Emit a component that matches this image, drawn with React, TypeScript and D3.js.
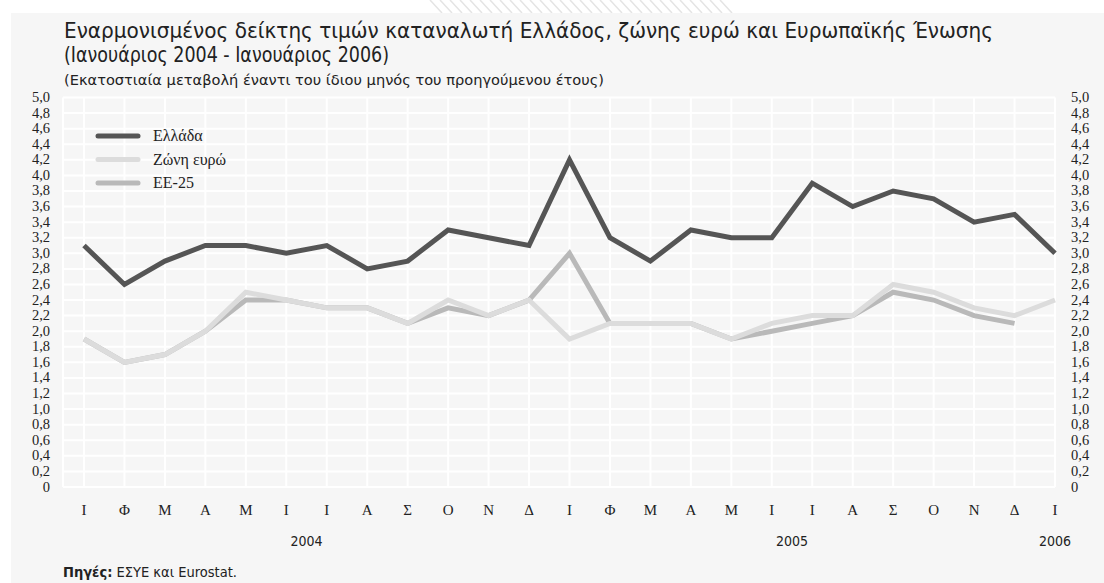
import React from "react";
import * as d3 from "d3";

const months = ["Ι","Φ","Μ","Α","Μ","Ι","Ι","Α","Σ","Ο","Ν","Δ","Ι","Φ","Μ","Α","Μ","Ι","Ι","Α","Σ","Ο","Ν","Δ","Ι"];
const greece = [3.1,2.6,2.9,3.1,3.1,3.0,3.1,2.8,2.9,3.3,3.2,3.1,4.2,3.2,2.9,3.3,3.2,3.2,3.9,3.6,3.8,3.7,3.4,3.5,3.0];
const euroArea = [1.9,1.6,1.7,2.0,2.5,2.4,2.3,2.3,2.1,2.4,2.2,2.4,1.9,2.1,2.1,2.1,1.9,2.1,2.2,2.2,2.6,2.5,2.3,2.2,2.4];
const eu25 = [1.9,1.6,1.7,2.0,2.4,2.4,2.3,2.3,2.1,2.3,2.2,2.4,3.0,2.1,2.1,2.1,1.9,2.0,2.1,2.2,2.5,2.4,2.2,2.1];
const yearLabels = ["2004","2005","2006"];
const yearPos = [5.5,17.5,24];
const yTicks = d3.range(0, 26).map((i) => i * 0.2);
const seriesNames = ["Ελλάδα","Ζώνη ευρώ","ΕΕ-25"];
const seriesColors = ["#555555","#dcdcdc","#b9b9b9"];

const W = 1104, H = 583;
const plotLeft = 63, plotRight = 1055, plotTop = 97.5, plotBottom = 487;

export default function App() {
  const x = d3.scaleLinear().domain([0, 24]).range([84, plotRight]);
  const y = d3.scaleLinear().domain([0, 5]).range([plotBottom, plotTop]);
  const line = d3.line<number>().x((_, i) => x(i)).y((d) => y(d));
  const fmt = (v: number) => (v === 0 ? "0" : d3.format(".1f")(v).replace(".", ","));
  const serif = "'Liberation Serif', 'DejaVu Serif', serif";
  const narrow = "'Liberation Sans Narrow', 'DejaVu Sans Condensed', 'Arial Narrow', sans-serif";
  const hatch = d3.range(0, 30).map((i) => 430 + i * 10);
  const legendY = [136, 159.5, 183];

  return (
    <svg width={W} height={H} style={{ position: "absolute", left: 0, top: 0, display: "block" }}>
      <rect x={0} y={0} width={W} height={H} fill="#ffffff" />
      {hatch.map((hx, i) => (
        <line key={"h" + i} x1={hx} y1={0} x2={hx + 12} y2={13} stroke="#e4e4e4" strokeWidth={1.5} />
      ))}
      <rect x={11} y={13} width={W - 11} height={H - 13} fill="#f6f6f6" />

      <text x={64} y={38} fontFamily={narrow} fontSize={21} fill="#222" textLength={929} lengthAdjust="spacingAndGlyphs">
        Εναρμονισμένος δείκτης τιμών καταναλωτή Ελλάδος, ζώνης ευρώ και Ευρωπαϊκής Ένωσης
      </text>
      <text x={64} y={62} fontFamily={narrow} fontSize={21} fill="#222" textLength={325} lengthAdjust="spacingAndGlyphs">
        (Ιανουάριος 2004 - Ιανουάριος 2006)
      </text>
      <text x={64} y={85} fontFamily={narrow} fontSize={14} fill="#222" textLength={540} lengthAdjust="spacingAndGlyphs">
        (Εκατοστιαία μεταβολή έναντι του ίδιου μηνός του προηγούμενου έτους)
      </text>

      {yTicks.map((t, i) => (
        <line key={"gy" + i} x1={plotLeft} x2={plotRight} y1={y(t)} y2={y(t)} stroke="#ffffff" strokeWidth={2} />
      ))}
      <line x1={plotLeft} x2={plotLeft} y1={plotTop} y2={plotBottom} stroke="#ffffff" strokeWidth={2} />
      {months.map((_, i) => (
        <line key={"gx" + i} x1={x(i)} x2={x(i)} y1={plotTop} y2={plotBottom} stroke="#ffffff" strokeWidth={2} />
      ))}

      {yTicks.map((t, i) => (
        <g key={"yl" + i}>
          <text x={50} y={y(t) + 4.5} textAnchor="end" fontFamily={serif} fontSize={14.5} fill="#222">{fmt(t)}</text>
          <text x={1071} y={y(t) + 4.5} textAnchor="start" fontFamily={serif} fontSize={14.5} fill="#222">{fmt(t)}</text>
        </g>
      ))}

      {months.map((m, i) => (
        <text key={"m" + i} x={x(i)} y={515} textAnchor="middle" fontFamily={serif} fontSize={15} fill="#222">{m}</text>
      ))}
      {yearLabels.map((yl, i) => (
        <text key={"yr" + i} x={x(yearPos[i])} y={546} textAnchor="middle" fontFamily={narrow} fontSize={14} fill="#222">{yl}</text>
      ))}

      <path d={line(eu25) || ""} fill="none" stroke={seriesColors[2]} strokeWidth={5} strokeLinejoin="miter" />
      <path d={line(euroArea) || ""} fill="none" stroke={seriesColors[1]} strokeWidth={5} strokeLinejoin="miter" />
      <path d={line(greece) || ""} fill="none" stroke={seriesColors[0]} strokeWidth={5} strokeLinejoin="miter" />

      {seriesNames.map((n, i) => (
        <g key={"lg" + i}>
          <line x1={98} x2={138} y1={legendY[i]} y2={legendY[i]} stroke={seriesColors[i]} strokeWidth={5} strokeLinecap="round" />
          <text x={153} y={legendY[i] + 5} fontFamily={serif} fontSize={16} fill="#222">{n}</text>
        </g>
      ))}

      <text x={63} y={577} fontFamily={narrow} fontSize={14} fill="#222" textLength={174} lengthAdjust="spacingAndGlyphs">
        <tspan fontWeight="bold">Πηγές:</tspan> ΕΣΥΕ και Eurostat.
      </text>
    </svg>
  );
}
